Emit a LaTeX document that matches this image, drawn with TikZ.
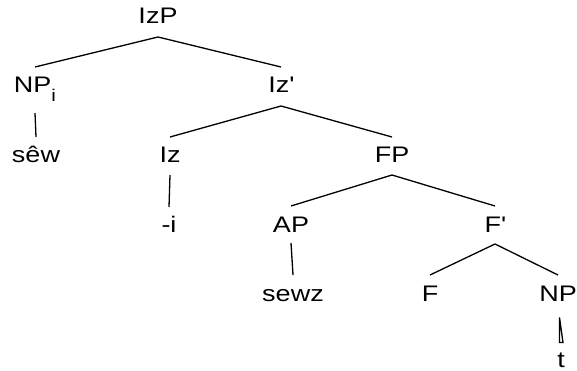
\documentclass[tikz,border=0pt]{standalone}
\usepackage{fontspec}
\setmainfont{Liberation Sans}[FakeStretch=1.2]
\usetikzlibrary{calc}
\begin{document}
\begin{tikzpicture}[x=1pt,y=-1pt,
  lbl/.style={anchor=base,inner sep=0pt,font=\fontsize{22.5}{22.5}\selectfont},
  edge/.style={line width=1.3pt}]
\useasboundingbox (0,0) rectangle (577,371);
% labels, placed on their baselines
\node[lbl] (IzP)  at (158,24)  {IzP};
\node[lbl] (NPi)  at (35,93)   {NP\raisebox{-9pt}{\fontsize{17}{17}\selectfont i}};
\node[lbl] (Izb)  at (281,93)  {Iz\textquotesingle};
\node[lbl] (sew)  at (36,163)  {sêw};
\node[lbl] (Iz)   at (170,163) {Iz};
\node[lbl] (FP)   at (392,163) {FP};
\node[lbl] (suf)  at (169,232) {-i};
\node[lbl] (AP)   at (291,232) {AP};
\node[lbl] (Fb)   at (495,232) {F\textquotesingle};
\node[lbl] (sewz) at (293,301) {sewz};
\node[lbl] (F)    at (430,301) {F};
\node[lbl] (NP)   at (558,301) {NP};
\node[lbl] (t)    at (561,367.5) {t};
% branches
\draw[edge] ([yshift=26pt]NPi.base) -- ([yshift=-13pt]IzP.base) -- ([yshift=26pt]Izb.base);
\draw[edge] ([yshift=26pt]Iz.base) -- ([yshift=-13pt]Izb.base) -- ([yshift=26pt]FP.base);
\draw[edge] ([yshift=26pt]AP.base) -- ([yshift=-12pt]FP.base) -- ([yshift=26pt]Fb.base);
\draw[edge] ([yshift=26pt]F.base) -- ([yshift=-12pt]Fb.base) -- ([yshift=26pt]NP.base);
% unary branches
\draw[edge] ([yshift=-20pt]NPi.base) -- ([yshift=26pt]sew.base);
\draw[edge] ([yshift=-12pt]Iz.base) -- ([yshift=25pt]suf.base);
\draw[edge] ([yshift=-11pt]AP.base) -- ([yshift=26pt]sewz.base);
% thin triangle over the trace
\draw[edge] ([xshift=-1.5pt,yshift=50pt]t.base) -- ([xshift=-1.5pt,yshift=25pt]t.base)
  -- ([xshift=2pt,yshift=25pt]t.base) -- cycle;
\end{tikzpicture}
\end{document}
